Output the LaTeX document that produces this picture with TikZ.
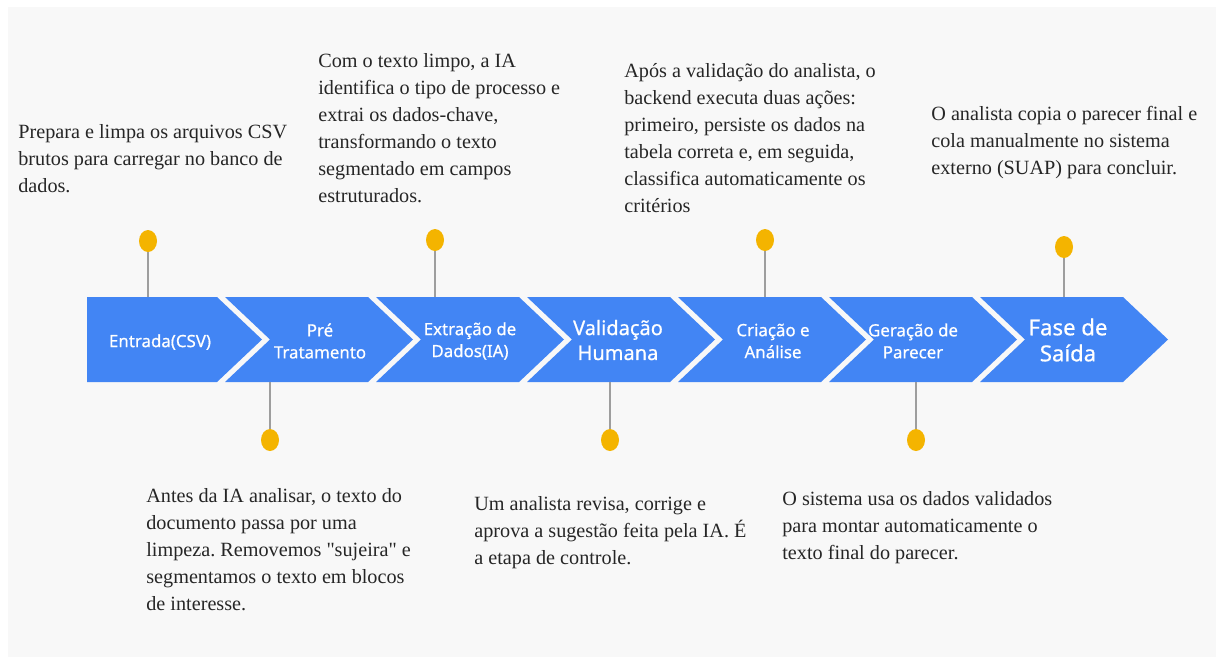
\documentclass[tikz,border=0pt]{standalone}
\usepackage{fontspec}
\setmainfont{Liberation Serif}
\newfontfamily\stagefont[FakeBold=0.6]{Noto Sans}
\usepackage{xcolor}
\usepackage{tikz}
\usetikzlibrary{positioning, shapes.geometric}
\frenchspacing

\definecolor{chevblue}{HTML}{4285F4}
\definecolor{pinyellow}{HTML}{F4B400}
\definecolor{stemgray}{HTML}{9E9E9E}
\definecolor{bggray}{HTML}{F8F8F8}

\begin{document}
\begin{tikzpicture}[
  x=0.02cm, y=-0.02cm,
  stage/.style={text=white, align=center, inner sep=0pt, font=\stagefont\fontsize{9.6}{12.5}\selectfont},
  bigstage/.style={stage, font=\stagefont\fontsize{11.4}{14.2}\selectfont},
  note/.style={anchor=north west, align=left, inner sep=0pt, text=black!85, font=\fontsize{11.5}{15.4}\selectfont},
  pin/.style={ellipse, fill=pinyellow, inner sep=0pt, minimum width=0.36cm, minimum height=0.44cm},
  stem/.style={draw=stemgray, line width=1.3pt}
]
\useasboundingbox (0,0) rectangle (1216,657);
\fill[bggray] (8,7) rectangle (1216,657);

% arrow band
\fill[chevblue] (87,297) -- (217,297) -- (262,339.5) -- (217,382) -- (87,382) -- cycle;
\foreach \s in {225,376,527,678,829,980}
  \fill[chevblue] (\s,297) -- ({\s+143},297) -- ({\s+188},339.5) -- ({\s+143},382) -- (\s,382) -- ({\s+45},339.5) -- cycle;

\node[stage] (entrada) at (160,342) {Entrada(CSV)};
\node[stage] (pre) at (320,341) {Pré\\Tratamento};
\node[stage] (extracao) at (470,341) {Extração de\\Dados(IA)};
\node[bigstage] (validacao) at (618,340) {Validação\\Humana};
\node[stage] (criacao) at (773,341) {Criação e\\Análise};
\node[stage] (geracao) at (913,341) {Geração de\\Parecer};
\node[bigstage, font=\stagefont\fontsize{12.6}{14.8}\selectfont] (saida) at (1068,340) {Fase de\\Saída};

% pins
\foreach \px/\py/\fy [count=\i] in {148/241/297, 435/240/297, 765/240/297, 1064/247/297, 270/440/382, 610/440/382, 916/440/382} {
  \node[pin] (pin\i) at (\px,\py) {};
  \coordinate (foot\i) at (\px,\fy);
  \draw[stem] (pin\i) -- (foot\i);
}

% notes
\node[note] (notecsv) at (18,124) {Prepara e limpa os arquivos CSV\\brutos para carregar no banco de\\dados.};
\node[note] (noteextr) at (318,53) {Com o texto limpo, a IA\\identifica o tipo de processo e\\extrai os dados-chave,\\transformando o texto\\segmentado em campos\\estruturados.};
\node[note] (notecria) at (624,63) {Após a validação do analista, o\\backend executa duas ações:\\primeiro, persiste os dados na\\tabela correta e, em seguida,\\classifica automaticamente os\\critérios};
\node[note] (notesaida) at (931,106) {O analista copia o parecer final e\\cola manualmente no sistema\\externo (SUAP) para concluir.};
\node[note] (notepre) at (146,488) {Antes da IA analisar, o texto do\\documento passa por uma\\limpeza. Removemos \textquotedbl sujeira\textquotedbl{} e\\segmentamos o texto em blocos\\de interesse.};
\node[note] (notevalid) at (474,496) {Um analista revisa, corrige e\\aprova a sugestão feita pela IA. É\\a etapa de controle.};
\node[note] (noteparec) at (782,491) {O sistema usa os dados validados\\para montar automaticamente o\\texto final do parecer.};
\end{tikzpicture}
\end{document}
